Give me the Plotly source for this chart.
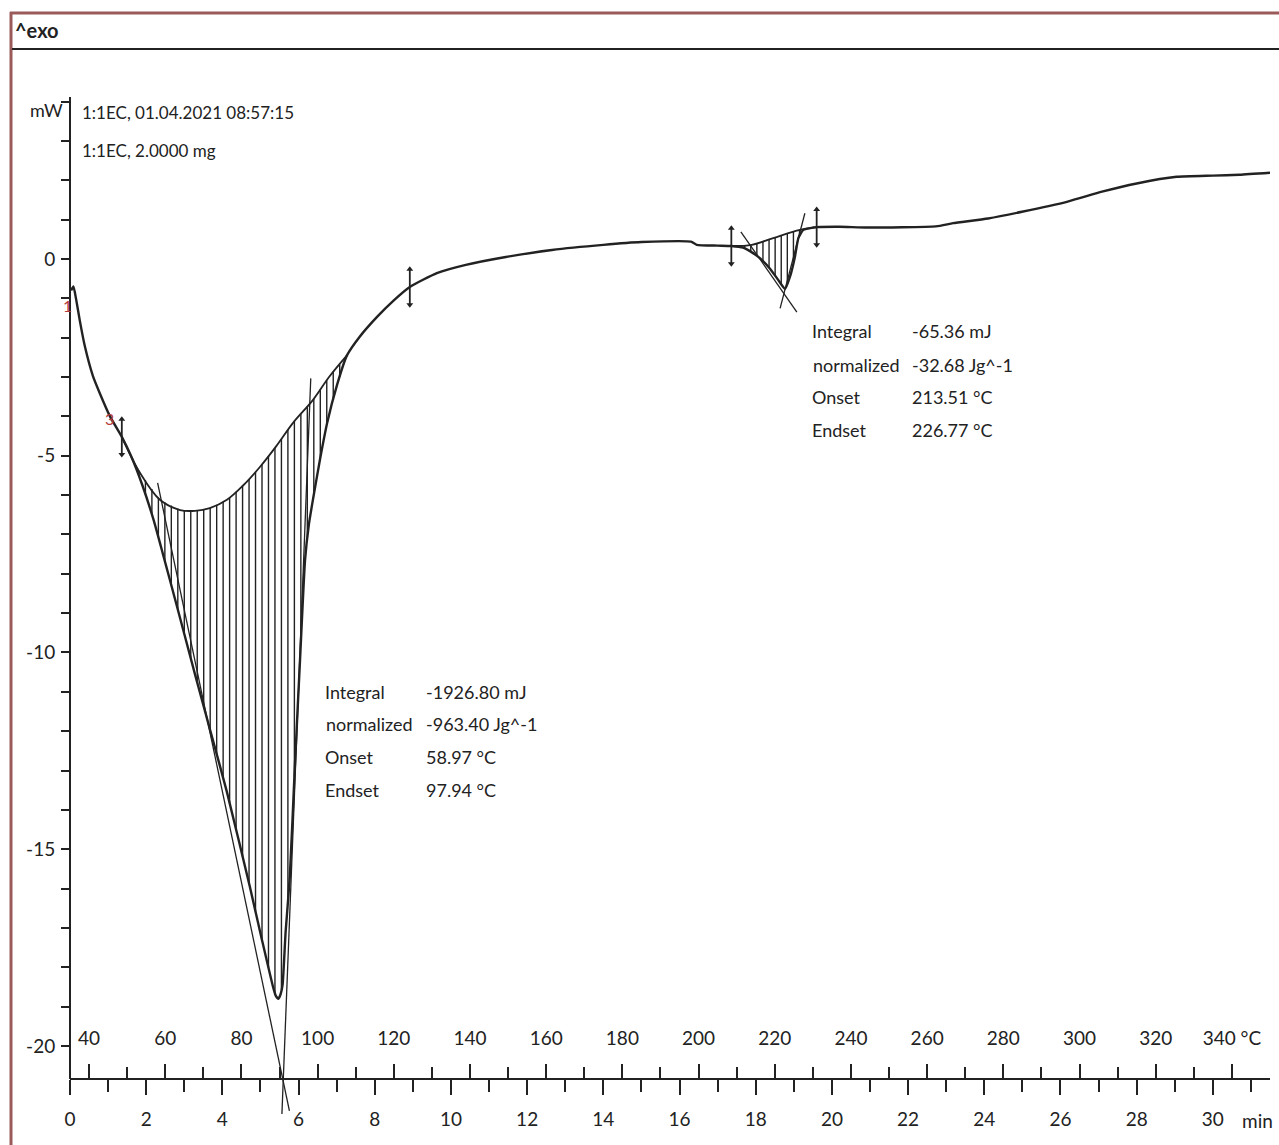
import numpy as np
import plotly.graph_objects as go

# ---- DSC run: 1:1EC, 2.0000 mg, heated at 10 K/min from 35 °C ----
T_START_C = 35.0
RATE_K_PER_MIN = 10.0
T_END_MIN = 31.5

# measured heat-flow signal
time_min = [0.03, 0.09, 0.16, 0.26, 0.39, 0.60, 0.79, 1.05, 1.36, 1.60, 1.90, 2.20,
            2.44, 2.80, 3.28, 3.70, 4.12, 4.72, 5.05, 5.33, 5.40, 5.47, 5.53, 5.58,
            5.66, 5.77, 5.90, 6.04, 6.17, 6.27, 6.38, 6.56, 6.75, 7.01, 7.27, 7.60,
            8.06, 8.50, 8.92, 9.63, 10.39, 11.44, 12.65, 14.00, 15.00, 16.30, 16.45,
            17.00, 17.36, 17.67, 17.85, 18.11, 18.37, 18.59, 18.77, 18.90, 19.03,
            19.12, 19.25, 19.51, 19.60, 20.20, 20.93, 22.73, 23.18, 24.10, 24.99,
            26.19, 27.09, 28.00, 29.05, 30.00, 30.70, 31.50]
heat_flow_mw = [-0.80, -0.70, -1.02, -1.58, -2.22, -2.97, -3.43, -4.00, -4.52, -5.00,
                -5.75, -6.65, -7.50, -8.80, -10.55, -12.05, -13.55, -15.95, -17.35,
                -18.50, -18.72, -18.80, -18.68, -18.45, -17.10, -15.70, -12.95, -10.15,
                -7.65, -6.75, -6.10, -5.11, -4.17, -3.20, -2.45, -1.98, -1.47, -1.05,
                -0.71, -0.36, -0.15, 0.05, 0.23, 0.36, 0.43, 0.44, 0.36, 0.34, 0.33,
                0.29, 0.20, 0.02, -0.24, -0.53, -0.76, -0.45, 0.06, 0.53, 0.74, 0.80,
                0.81, 0.82, 0.80, 0.83, 0.91, 1.03, 1.20, 1.46, 1.71, 1.92, 2.09, 2.12,
                2.14, 2.19]

# integration baselines of the two endothermic peaks
base1_t = [1.36, 1.84, 2.36, 2.89, 3.28, 3.67, 4.12, 4.55, 4.99, 5.42, 5.85, 6.38, 6.80, 7.27]
base1_mw = [-4.52, -5.44, -6.12, -6.38, -6.40, -6.33, -6.12, -5.75, -5.28, -4.75, -4.17,
            -3.58, -3.00, -2.45]
base2_t = [17.36, 17.90, 18.46, 19.16, 19.60]
base2_mw = [0.33, 0.36, 0.53, 0.74, 0.81]

# evaluation results
integral_mj = [-1926.80, -65.36]
normalized_jg = [-963.40, -32.68]
onset_c = [58.97, 213.51]
endset_c = [97.94, 226.77]

# tangent slopes (mW/min) and their drawn time spans
onset_slope = [-4.613, -1.388]
endset_slope = [24.69, 3.72]
onset_span = [(2.30, 5.76), (17.61, 19.08)]
endset_span = [(5.555, 6.32), (18.64, 19.29)]

# integration limits (min)
limit_t = [1.36, 8.92, 17.36, 19.60]

# axis ticks
y_major = [-20, -15, -10, -5, 0]
y_minor = [v for v in range(-20, 5) if v % 5 != 0]
t_major = list(range(0, 31, 2))
t_minor = list(range(1, 32, 2))
c_major = list(range(40, 341, 20))
c_minor = list(range(50, 331, 20))

INK = "#222222"
FONT = "Lato, Roboto, sans-serif"

W, H = 1279, 1145
ML, MR, MT, MB = 70, 9, 97, 31
Y_TOP, Y_BOT = 4.117, -21.73
Y_AXIS = -20.84
PW, PH = W - ML - MR, H - MT - MB


def px(x):
    return (x - ML) / PW


def py(y):
    return (H - MB - y) / PH


def t_of(temp_c):
    return (temp_c - T_START_C) / RATE_K_PER_MIN


fig = go.Figure()


# hatching between baseline and signal
def hatch(bt, bm, t0, t1, step):
    xs, ys = [], []
    for t in np.arange(t0, t1, step):
        top = np.interp(t, bt, bm)
        bot = np.interp(t, time_min, heat_flow_mw)
        if top - bot > 0.03:
            xs += [t, t, None]
            ys += [top, bot, None]
    return xs, ys


for bt, bm, t0, t1, st in [(base1_t, base1_mw, 1.47, 7.25, 0.17),
                           (base2_t, base2_mw, 17.55, 19.55, 0.16)]:
    hx, hy = hatch(bt, bm, t0, t1, st)
    fig.add_trace(go.Scatter(x=hx, y=hy, mode="lines", line=dict(color=INK, width=1.4),
                             hoverinfo="skip"))

# baselines
for bt, bm in [(base1_t, base1_mw), (base2_t, base2_mw)]:
    fig.add_trace(go.Scatter(x=bt, y=bm, mode="lines",
                             line=dict(color=INK, width=1.8, shape="spline"),
                             hoverinfo="skip"))

# onset / endset tangents
base_sets = [(base1_t, base1_mw), (base2_t, base2_mw)]
for i in range(2):
    bt, bm = base_sets[i]
    for temp, slope, span in [(onset_c[i], onset_slope[i], onset_span[i]),
                              (endset_c[i], endset_slope[i], endset_span[i])]:
        tc = t_of(temp)
        yc = float(np.interp(tc, bt, bm))
        xs = [span[0], span[1]]
        ys = [yc + slope * (s - tc) for s in xs]
        fig.add_trace(go.Scatter(x=xs, y=ys, mode="lines", line=dict(color=INK, width=1.3),
                                 hoverinfo="skip"))

# measured curve
fig.add_trace(go.Scatter(x=time_min, y=heat_flow_mw, mode="lines",
                         line=dict(color=INK, width=2.4, shape="spline", smoothing=0.5),
                         hoverinfo="skip"))

# integration limit markers
for t in limit_t:
    yv = float(np.interp(t, time_min, heat_flow_mw))
    fig.add_trace(go.Scatter(x=[t, t], y=[yv + 0.45, yv - 0.45], mode="lines+markers",
                             line=dict(color=INK, width=1.8),
                             marker=dict(symbol=["triangle-up", "triangle-down"], size=6, color=INK),
                             hoverinfo="skip"))

# temperature axis carrier
fig.add_trace(go.Scatter(x=[c_major[0], c_major[-1]], y=[None, None], xaxis="x2", yaxis="y",
                         mode="lines", hoverinfo="skip"))

tick_font = dict(family=FONT, size=19, color=INK)
pos_axis = (Y_AXIS - Y_BOT) / (Y_TOP - Y_BOT)

fig.update_layout(
    width=W, height=H,
    margin=dict(l=ML, r=MR, t=MT, b=MB),
    paper_bgcolor="white", plot_bgcolor="white",
    showlegend=False,
    font=dict(family=FONT, color=INK),
    xaxis=dict(
        range=[0, T_END_MIN], anchor="free", position=pos_axis,
        showline=True, linecolor=INK, linewidth=2,
        showgrid=False, zeroline=False,
        ticks="outside", ticklen=15, tickwidth=2, tickcolor=INK,
        tickvals=t_major, ticktext=[str(v) for v in t_major],
        minor=dict(tickvals=t_minor, ticks="outside", ticklen=12, tickwidth=2,
                   tickcolor=INK, showgrid=False),
        tickfont=tick_font, ticklabelstandoff=8,
    ),
    xaxis2=dict(
        range=[T_START_C, T_START_C + RATE_K_PER_MIN * T_END_MIN],
        overlaying="x", anchor="free", position=pos_axis, side="top",
        showline=False, showgrid=False, zeroline=False,
        ticks="outside", ticklen=15, tickwidth=2, tickcolor=INK,
        tickvals=c_major,
        ticktext=[str(v) if v != c_major[-1] else f"{v} °C" for v in c_major],
        minor=dict(tickvals=c_minor, ticks="outside", ticklen=12, tickwidth=2,
                   tickcolor=INK, showgrid=False),
        tickfont=tick_font, ticklabelstandoff=11,
    ),
    yaxis=dict(
        range=[Y_BOT, Y_TOP], showline=False, showgrid=False, zeroline=False,
        ticks="outside", ticklen=8, tickwidth=2, tickcolor=INK,
        tickvals=y_major, ticktext=[str(v) for v in y_major],
        minor=dict(tickvals=y_minor, ticks="outside", ticklen=8, tickwidth=2,
                   tickcolor=INK, showgrid=False),
        tickfont=tick_font, ticklabelstandoff=2,
    ),
)

shapes = [
    # y axis line, ending on the time axis
    dict(type="line", xref="paper", yref="y", x0=0, x1=0, y0=Y_AXIS, y1=Y_TOP,
         line=dict(color=INK, width=2)),
    # window frame
    dict(type="line", xref="paper", yref="paper", x0=px(10), x1=px(W + 2), y0=py(13), y1=py(13),
         line=dict(color="#9b5a5a", width=3)),
    dict(type="line", xref="paper", yref="paper", x0=px(11), x1=px(11), y0=py(12), y1=py(H + 2),
         line=dict(color="#9b5a5a", width=3)),
    dict(type="line", xref="paper", yref="paper", x0=px(12), x1=px(W + 2), y0=py(49), y1=py(49),
         line=dict(color=INK, width=2)),
]
fig.update_layout(shapes=shapes)

ann = []


def text(x, y, s, size=18, anchor="left", color=INK, bold=False):
    ann.append(dict(xref="paper", yref="paper", x=px(x), y=py(y),
                    text=f"<b>{s}</b>" if bold else s,
                    showarrow=False, xanchor=anchor, yanchor="middle",
                    font=dict(family=FONT, size=size, color=color)))


text(13, 30, "^exo", size=20, bold=True)
text(46, 110, "mW", size=18, anchor="center")
text(80, 113, "1:1EC, 01.04.2021 08:57:15", size=17)
text(80, 150, "1:1EC, 2.0000 mg", size=17)
text(1257, 1120, "min", size=19, anchor="center")

# red curve markers
text(67, 305, "1", size=16, anchor="center", color="#b53a3a")
text(109, 418, "3", size=16, anchor="center", color="#b53a3a")

# evaluation tables
blocks = [(323, 415, 424, [692, 724, 757, 790]), (810, 902, 910, [331, 365, 397, 430])]
for i, (xl, xn, xv, rows) in enumerate(blocks):
    labels = ["Integral", "normalized", "Onset", "Endset"]
    values = [f"{integral_mj[i]:.2f} mJ", f"{normalized_jg[i]:.2f} Jg^-1",
              f"{onset_c[i]:.2f} °C", f"{endset_c[i]:.2f} °C"]
    for j in range(4):
        if j == 1:
            text(xn, rows[j], labels[j], anchor="right")
        else:
            text(xl, rows[j], labels[j])
        text(xv, rows[j], values[j])

fig.update_layout(annotations=ann)

fig.write_html("out.html")
